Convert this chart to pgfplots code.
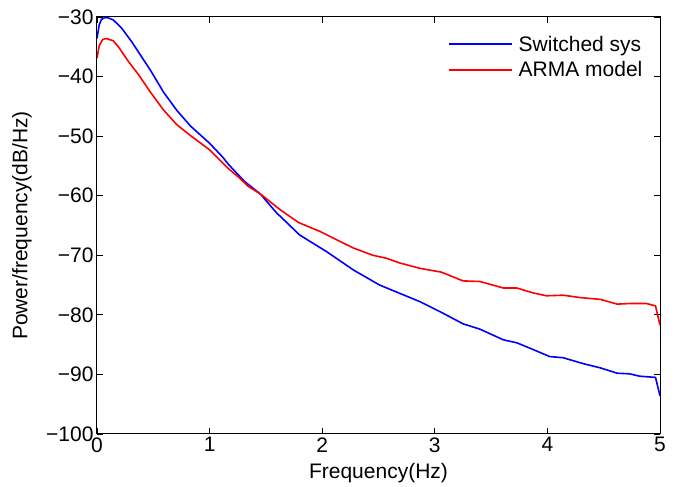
\documentclass[border=0pt]{standalone}
\usepackage{fontspec}
\setmainfont{Liberation Sans}
\usepackage{pgfplots}
\pgfplotsset{compat=1.18}
\begin{document}
\begin{tikzpicture}[font=\fontsize{21}{24}\selectfont]
\begin{axis}[
  scale only axis,
  width=563pt, height=417pt,
  xmin=0, xmax=5, ymin=-100, ymax=-30,
  xtick={0,1,2,3,4,5},
  xticklabels={0,1,2,3,4,5},
  ytick={-100,-90,-80,-70,-60,-50,-40,-30},
  yticklabels={−100,−90,−80,−70,−60,−50,−40,−30},
  tick align=inside,
  major tick length=6pt,
  axis line style={line width=1pt},
  every tick/.style={black, line width=0.8pt},
  xlabel={Frequency(Hz)},
  ylabel={Power/frequency(dB/Hz)},
  xlabel style={at={(axis description cs:0.5,-0.093)}, anchor=center},
  ylabel style={at={(axis description cs:-0.1332,0.5)}, anchor=center},
  legend style={draw=none, fill=none, at={(0.978,0.965)}, anchor=north east, row sep=5pt},
  legend cell align=left,
  legend image code/.code={\draw[#1] (0pt,0pt) -- (63pt,0pt);},
]
\addplot[blue, line width=1.6pt] coordinates {
(0,-33.6) (0.02,-31.3) (0.04,-30.4) (0.07,-30.1) (0.1,-30.15) (0.145,-30.5) (0.22,-31.9)
(0.31,-34.2) (0.40,-36.8) (0.48,-39.1) (0.59,-42.6) (0.71,-45.7) (0.83,-48.3) (1.0,-51.2)
(1.12,-53.6) (1.17,-54.8) (1.27,-56.8) (1.31,-57.6) (1.45,-59.7) (1.6,-63.0) (1.63,-63.5) (1.8,-66.6)
(2.04,-69.4) (2.28,-72.5) (2.51,-75.0) (2.69,-76.4) (2.87,-77.8) (3.05,-79.5) (3.25,-81.5)
(3.40,-82.4) (3.61,-84.2) (3.73,-84.7) (3.87,-85.8) (4.02,-87.0) (4.14,-87.2) (4.32,-88.2)
(4.47,-88.9) (4.62,-89.8) (4.73,-89.9) (4.82,-90.3) (4.96,-90.5) (5.0,-93.6)
};
\addlegendentry{\hspace{4pt}Switched sys}
\addplot[red, line width=1.6pt] coordinates {
(0,-36.9) (0.02,-34.8) (0.05,-33.8) (0.08,-33.6) (0.145,-34.0) (0.19,-35.0) (0.28,-37.5)
(0.37,-39.7) (0.47,-42.5) (0.59,-45.6) (0.71,-48.1) (0.83,-49.9) (1.0,-52.3) (1.08,-53.8)
(1.17,-55.5) (1.27,-57.1) (1.34,-58.4)
(1.45,-59.7) (1.63,-62.4) (1.79,-64.5) (1.98,-66.0) (2.16,-67.7) (2.28,-68.8) (2.45,-70.0)
(2.57,-70.5) (2.69,-71.3) (2.87,-72.2) (3.05,-72.8) (3.08,-73.0) (3.25,-74.3) (3.40,-74.4)
(3.61,-75.5) (3.73,-75.5) (3.87,-76.3) (3.99,-76.8) (4.14,-76.7) (4.29,-77.1) (4.47,-77.4)
(4.62,-78.2) (4.73,-78.1) (4.88,-78.1) (4.96,-78.5) (5.0,-81.7)
};
\addlegendentry{\hspace{4pt}ARMA model}
\end{axis}
\pgfresetboundingbox
\path ([shift={(-97pt,-53pt)}]current axis.south west) rectangle ([shift={(18pt,17pt)}]current axis.north east);
\end{tikzpicture}
\end{document}
